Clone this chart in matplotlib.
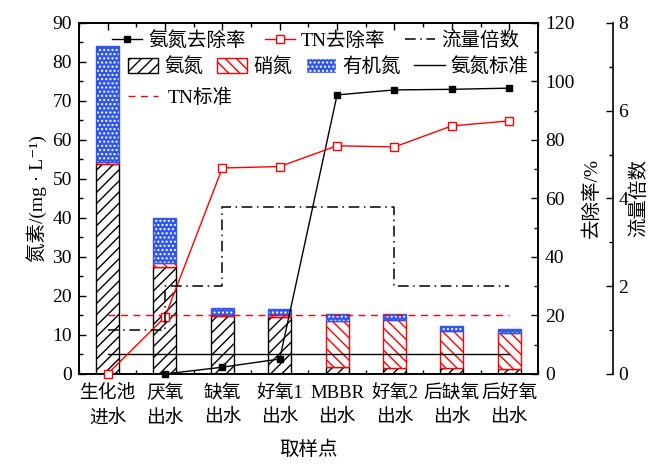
import numpy as np
import matplotlib
matplotlib.use("Agg")
import matplotlib.pyplot as plt
from matplotlib.lines import Line2D
from matplotlib.patches import Patch
from matplotlib.ticker import MultipleLocator

plt.rcParams["font.family"] = ["Liberation Serif", "Noto Sans CJK SC", "DejaVu Serif"]
plt.rcParams["font.size"] = 14
plt.rcParams["hatch.linewidth"] = 1.0

sites = ["生化池\n进水", "厌氧\n出水", "缺氧\n出水", "好氧1\n出水",
         "MBBR\n出水", "好氧2\n出水", "后缺氧\n出水", "后好氧\n出水"]
ammonia = [53.8, 27.3, 14.8, 14.6, 1.9, 1.5, 1.4, 1.3]
nitrate = [0.5, 1.2, 0.4, 0.4, 11.8, 12.3, 9.6, 9.1]
organic = [29.7, 11.6, 1.6, 1.6, 1.6, 1.5, 1.3, 1.1]
nh_removal = [np.nan, 0, 2.3, 5.1, 95.4, 97.1, 97.3, 97.7]
tn_removal = [0, 19.4, 70.4, 70.9, 78.0, 77.6, 84.8, 86.5]
flow_ratio = [1, 2, 3.8, 3.8, 3.8, 2, 2, 2]
nh_std = 5
tn_std = 15

BLUE = "#2f55ee"

x = np.arange(len(sites))
amm = np.array(ammonia)
nit = np.array(nitrate)

fig = plt.figure(figsize=(6.52, 4.68), dpi=100)
ax = fig.add_axes([0.121, 0.201, 0.704, 0.750])
ax2 = ax.twinx()
ax3 = ax.twinx()
ax3.spines["right"].set_position(("axes", 1.163))
for s in ["top", "left", "bottom"]:
    ax3.spines[s].set_visible(False)

w = 0.4
ax.bar(x, amm, w, color="white", edgecolor="black", hatch="///", lw=1, zorder=2)
ax.bar(x, nit, w, bottom=amm, color="white", edgecolor="red", hatch="\\\\\\", lw=1, zorder=2)
ax.bar(x, organic, w, bottom=amm + nit, color=BLUE, edgecolor="white", hatch="....", lw=0, zorder=2)
ax.bar(x, organic, w, bottom=amm + nit, fill=False, edgecolor=BLUE, lw=1, zorder=2)

ends = x[[0, -1]]
ax.plot(ends, [nh_std, nh_std], color="black", lw=1, zorder=3)
ax.plot(ends, [tn_std, tn_std], color="red", lw=1, ls=(0, (5, 4)), zorder=3)

ax2.plot(x, nh_removal, color="black", marker="s", ms=5, lw=1, clip_on=False, zorder=4)
ax2.plot(x, tn_removal, color="red", marker="s", ms=5.5, mfc="white", lw=1, clip_on=False, zorder=4)

ax3.step(x, flow_ratio, where="post", color="black", lw=1.1, ls=(0, (7, 3, 1, 3)))

ax.set_xlim(-0.5, 7.5)
ax.set_ylim(0, 90)
ax2.set_ylim(0, 120)
ax3.set_ylim(0, 8)

ax.set_xticks(x)
ax.set_xticklabels(sites, linespacing=1.5, fontsize=13.5)
ax.xaxis.set_minor_locator(MultipleLocator(0.5))
ax.yaxis.set_major_locator(MultipleLocator(10))
ax.yaxis.set_minor_locator(MultipleLocator(5))
ax2.yaxis.set_major_locator(MultipleLocator(20))
ax2.yaxis.set_minor_locator(MultipleLocator(10))
ax3.yaxis.set_major_locator(MultipleLocator(2))
ax3.yaxis.set_minor_locator(MultipleLocator(1))

for a in (ax, ax2, ax3):
    a.tick_params(which="major", direction="in", length=5, width=1)
    a.tick_params(which="minor", direction="in", length=3, width=1)
    for s in a.spines.values():
        s.set_linewidth(1.2)
ax.tick_params(axis="x", which="both", top=True, pad=8)
ax.tick_params(axis="y", pad=5)
ax2.tick_params(axis="y", pad=5)
ax3.tick_params(axis="y", pad=4)

ax.set_ylabel("氮素/(mg · L⁻¹)", labelpad=4)
ax.set_xlabel("取样点", labelpad=10)
ax2.set_ylabel("去除率/%", labelpad=6)
ax3.set_ylabel("流量倍数", labelpad=1)

leg_kw = dict(frameon=False, loc="upper left", borderaxespad=0, handlelength=1.55)

h1 = [
    Line2D([], [], color="black", marker="s", ms=5, lw=1),
    Line2D([], [], color="red", marker="s", ms=5.5, mfc="white", lw=1),
    Line2D([], [], color="black", lw=1.1, ls=(0, (7, 3, 1, 3))),
]
leg1 = ax3.legend(h1, ["氨氮去除率", "TN去除率", "流量倍数"], ncol=3,
                  bbox_to_anchor=(0.055, 1.0), handletextpad=0.3,
                  columnspacing=1.0, **leg_kw)
ax3.add_artist(leg1)

h2 = [
    Patch(facecolor="white", edgecolor="black", hatch="///"),
    Patch(facecolor="white", edgecolor="red", hatch="\\\\\\"),
    Patch(facecolor=BLUE, edgecolor="white", hatch="...."),
    Line2D([], [], color="black", lw=1),
]
leg2 = ax3.legend(h2, ["氨氮", "硝氮", "有机氮", "氨氮标准"], ncol=4,
                  bbox_to_anchor=(0.09, 0.924), handleheight=0.75,
                  handletextpad=0.3, columnspacing=0.72, **leg_kw)
ax3.add_artist(leg2)

h3 = [Line2D([], [], color="red", lw=1, ls=(0, (5, 4)))]
ax3.legend(h3, ["TN标准"], bbox_to_anchor=(0.09, 0.836), handletextpad=0.5, **leg_kw)

fig.savefig("out.png", dpi=100)
